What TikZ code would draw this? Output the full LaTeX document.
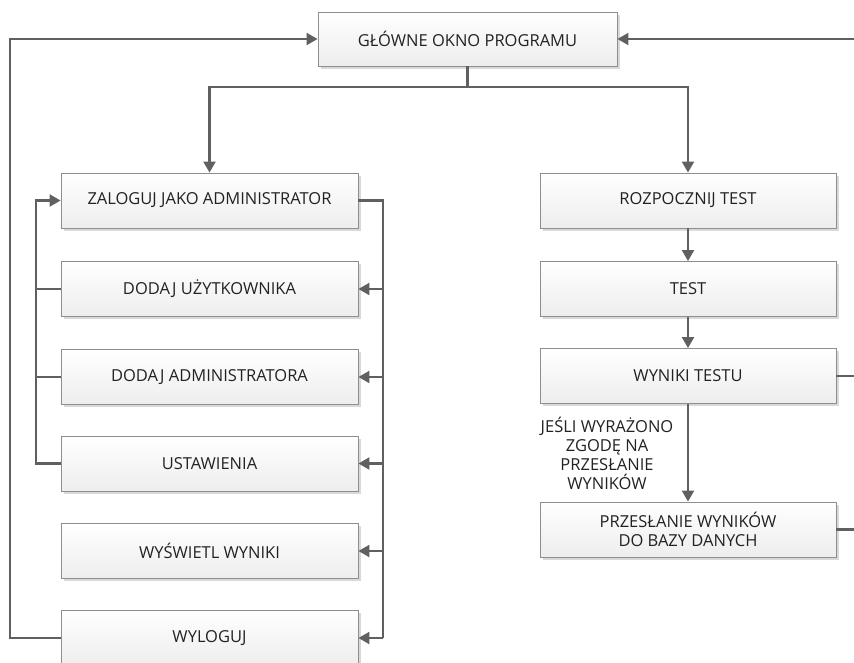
\documentclass[tikz,border=0pt]{standalone}
\usepackage{fontspec}
\setmainfont{Open Sans}
\usetikzlibrary{arrows.meta,shadows,calc}
\definecolor{linec}{HTML}{606060}
\definecolor{boxline}{HTML}{8E8E8E}
\definecolor{txt}{HTML}{222222}
\tikzset{
  stepbox/.style={rectangle, draw=boxline, line width=0.9pt, top color=white, bottom color=black!7,
    minimum width=297pt, minimum height=55pt, inner sep=2pt, text=txt, align=center,
    font=\fontsize{16.5}{18.5}\selectfont,
    drop shadow={shadow xshift=2.5pt, shadow yshift=-2.5pt, fill=black!15, opacity=1}},
  conn/.style={draw=linec, line width=2.2pt},
  arr/.style={conn, -{Triangle[length=11pt,width=12pt]}},
  lbl/.style={text=txt, align=center, font=\fontsize{16.5}{19}\selectfont}
}
\begin{document}
\begin{tikzpicture}[x=1pt,y=-1pt]
\useasboundingbox (0,0) rectangle (854,662);
\clip (0,0) rectangle (854,662);
\fill[white] (0,0) rectangle (854,662);
% nodes
\node[stepbox, minimum width=299pt, minimum height=54pt] (g) at (467.5,39) {GŁÓWNE OKNO PROGRAMU};
\node[stepbox] (z1) at (209.5,200.5) {ZALOGUJ JAKO ADMINISTRATOR};
\node[stepbox] (z2) at (209.5,289) {DODAJ UŻYTKOWNIKA};
\node[stepbox] (z3) at (209.5,377) {DODAJ ADMINISTRATORA};
\node[stepbox] (z4) at (209.5,463.5) {USTAWIENIA};
\node[stepbox] (z5) at (209.5,551) {WYŚWIETL WYNIKI};
\node[stepbox] (z6) at (209.5,638) {WYLOGUJ};
\node[stepbox, minimum width=296pt] (r1) at (688,200.5) {ROZPOCZNIJ TEST};
\node[stepbox, minimum width=296pt] (r2) at (688,289) {TEST};
\node[stepbox, minimum width=296pt] (r3) at (688,376) {WYNIKI TESTU};
\node[stepbox, minimum width=296pt] (r4) at (688,529.5) {PRZESŁANIE WYNIKÓW\\DO BAZY DANYCH};
% top branching
\coordinate (j) at (467.5,87);
\draw[conn] (g.south) -- (j);
\draw[arr] (j) -| (z1.north);
\draw[arr] (j) -| (r1.north);
% outer left loop
\coordinate (ol) at (10,638);
\draw[arr] (z6.west) -- (ol) |- (g.west);
% right side returns
\coordinate (c3) at (866,376);
\draw[arr] (r3.east) -- (c3) |- (g.east);
\draw[conn] (r4.east) -| (c3);
% inner left loop
\coordinate (il) at (36,463.5);
\draw[arr] (z4.west) -- (il) |- (z1.west);
\draw[conn] (z2.west) -- (z2.west -| il);
\draw[conn] (z3.west) -- (z3.west -| il);
% right fan from ZALOGUJ
\coordinate (k) at (383,200.5);
\draw[conn] (z1.east) -- (k) -- (k |- z6.east);
\foreach \i in {2,...,6} {\draw[arr] (k |- z\i.east) -- (z\i.east);}
% right column
\draw[arr] (r1.south) -- (r2.north);
\draw[arr] (r2.south) -- (r3.north);
\draw[arr] (r3.south) -- (r4.north);
\node[lbl] (cond) at (607,453) {JEŚLI WYRAŻONO\\ZGODĘ NA\\PRZESŁANIE\\WYNIKÓW};
\end{tikzpicture}
\end{document}
